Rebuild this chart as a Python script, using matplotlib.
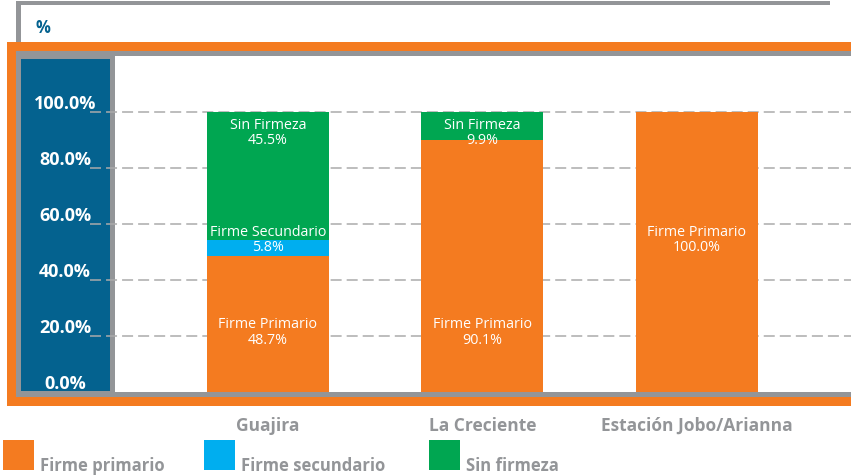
import numpy as np
import matplotlib
matplotlib.use('Agg')
import matplotlib.pyplot as plt
from matplotlib.patches import Rectangle
import matplotlib.transforms as mtransforms

# data
categories = ['Guajira', 'La Creciente', 'Estación Jobo/Arianna']
primario = [48.7, 90.1, 100.0]
secundario = [5.8, 0.0, 0.0]
sin_firmeza = [45.5, 9.9, 0.0]
yticks = [0, 20, 40, 60, 80, 100]
legend_labels = ['Firme primario', 'Firme secundario', 'Sin firmeza']

# in-bar annotations: (category index, text, y in %)
bar_notes = [
   (0, 'Sin Firmeza\n45.5%', 93.0),
   (0, 'Firme Secundario\n5.8%', 54.8),
   (0, 'Firme Primario\n48.7%', 21.7),
   (1, 'Sin Firmeza\n9.9%', 93.0),
   (1, 'Firme Primario\n90.1%', 21.7),
   (2, 'Firme Primario\n100.0%', 54.8),
]

ORANGE = '#F47B20'
BLUE = '#00AEEF'
GREEN = '#00A651'
PANEL = '#04628F'
GRAY = '#939598'
GRID = '#ABABAB'

W, H = 851, 477
plt.rcParams['font.family'] = ['Open Sans', 'DejaVu Sans']

fig = plt.figure(figsize=(W / 100, H / 100), dpi=100)


def rect(x0, y0, x1, y1, color, z=0.5):
   # pixel coords, origin top-left
   r = Rectangle((x0 / W, 1 - y1 / H), (x1 - x0) / W, (y1 - y0) / H,
                 transform=fig.transFigure, facecolor=color, lw=0, zorder=z)
   fig.add_artist(r)


# frame decoration
rect(16, 2, 830, 6, GRAY)
rect(16, 2, 21, 52, GRAY)
rect(7, 43, 851, 407, ORANGE)
rect(16, 52, 851, 398, GRAY)
rect(21, 60, 110, 392, PANEL)
fig.text(36 / W, 1 - 28 / H, '%', color=PANEL, fontsize=12, fontweight='bold',
         ha='left', va='center')

ax = fig.add_axes([115 / W, 1 - 393 / H, 736 / W, 336 / H], zorder=1)
ax.set_facecolor('white')
for s in ax.spines.values():
   s.set_visible(False)

x = np.arange(len(categories))
width = 0.569
prim = np.array(primario)
sec = np.array(secundario)
sinf = np.array(sin_firmeza)
ax.bar(x, prim, width, color=ORANGE, zorder=3)
ax.bar(x, sec, width, bottom=prim, color=BLUE, zorder=3)
ax.bar(x, sinf, width, bottom=prim + sec, color=GREEN, zorder=3)

ax.set_xlim(-0.713, 2.718)
ax.set_ylim(0, 120.2)

# dashed gridlines reaching into the blue panel
for v in yticks[1:]:
   ax.axhline(v, xmin=-25 / 736, xmax=1, color=GRID, lw=1.1,
              linestyle=(0, (7.2, 3.3)), clip_on=False, zorder=2)

# y tick labels drawn on the blue panel
ax.set_yticks([])
off = mtransforms.ScaledTranslation(0, 9 / 100, fig.dpi_scale_trans)
for v in yticks:
   ax.text(-50 / 736, v, '%.1f%%' % v, transform=ax.get_yaxis_transform() + off,
           ha='center', va='center', color='white', fontsize=13,
           fontweight='bold', clip_on=False)

ax.set_xticks(x, categories)
ax.tick_params(axis='x', length=0, pad=17, labelsize=12.5, labelcolor=GRAY)
for lab in ax.get_xticklabels():
   lab.set_fontweight('bold')

for i, txt, yv in bar_notes:
   ax.text(x[i], yv, txt, ha='center', va='center', color='white',
           fontsize=10.3, linespacing=1.05, zorder=4)

# legend
leg_colors = [ORANGE, BLUE, GREEN]
leg_x = [3, 204, 429]
for col, lx, lab in zip(leg_colors, leg_x, legend_labels):
   rect(lx, 441, lx + 31, 471, col)
   fig.text((lx + 37) / W, 1 - 471 / H, lab, color=GRAY, fontsize=12,
            fontweight='bold', ha='left', va='baseline')

fig.savefig('out.png', dpi=100)
